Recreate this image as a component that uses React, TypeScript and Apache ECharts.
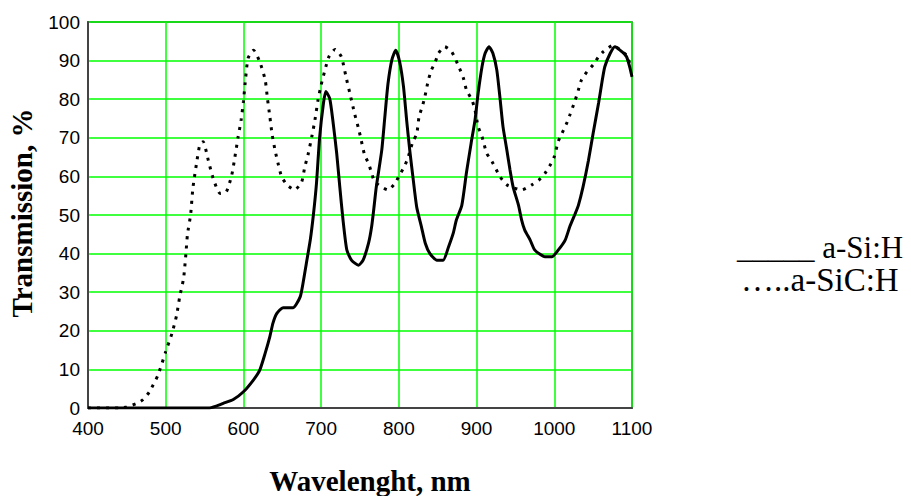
import React, { useEffect, useRef } from "react";
import * as echarts from "echarts";

// a-Si:H (solid line)
const siWavelength = [400, 555, 565, 574, 587, 600, 613, 621, 628, 634, 638, 643, 651, 664, 673, 677, 681, 686, 690, 694, 698, 703, 706, 711, 715, 720, 724, 728, 733, 739, 748, 754, 761, 765, 768, 771, 778, 782, 786, 791, 796, 801, 806, 810, 814, 818, 823, 829, 834, 840, 849, 857, 864, 870, 874, 881, 887, 893, 898, 902, 907, 911, 916, 921, 926, 930, 934, 939, 943, 947, 954, 958, 962, 969, 975, 988, 997, 1005, 1014, 1020, 1027, 1031, 1037, 1044, 1050, 1057, 1061, 1065, 1072, 1078, 1087, 1093, 1097, 1100];
const siTransmission = [0, 0, 0.5, 1.2, 2.2, 4.2, 7.3, 9.8, 14.2, 18.5, 22, 24.5, 26, 26, 28.8, 32.7, 37.5, 43.5, 50, 58.2, 70, 79, 82, 80.2, 74.6, 66, 57.3, 49, 41, 38.3, 37, 38.3, 42.7, 47, 52, 57.3, 66.8, 75.5, 84, 90.2, 92.7, 89.7, 83.2, 74.6, 66.8, 60, 52, 47, 42.7, 40, 38.3, 38.3, 41.8, 45.3, 48.7, 52.5, 61, 68.6, 74.6, 81.5, 88.4, 91.9, 93.6, 91.9, 87.6, 80.6, 72.9, 66.8, 61.7, 57.3, 52.5, 48.7, 46.1, 43.5, 40.9, 39.2, 39.2, 40.9, 43.5, 47, 50.4, 52.5, 57.3, 64.2, 71.2, 79, 84, 88.4, 91.9, 93.6, 92.3, 91, 88.4, 85.8];

// a-SiC:H (dotted line)
const sicWavelength = [400, 440, 450, 463, 471, 479, 490, 500, 508, 514, 518, 523, 526, 528, 532, 535, 540, 544, 548, 555, 561, 570, 578, 585, 589, 593, 597, 600, 603, 606, 613, 621, 628, 631, 634, 637, 641, 645, 649, 656, 666, 675, 679, 683, 688, 692, 696, 700, 705, 710, 718, 726, 732, 737, 743, 748, 751, 756, 761, 765, 769, 786, 795, 801, 807, 812, 818, 823, 826, 830, 833, 838, 842, 847, 851, 859, 868, 878, 883, 887, 894, 898, 902, 907, 913, 920, 930, 939, 958, 971, 980, 988, 995, 1000, 1005, 1010, 1016, 1020, 1027, 1031, 1035, 1042, 1050, 1057, 1063, 1076, 1085, 1093, 1097, 1100];
const sicTransmission = [0, 0, 0.3, 1.2, 2.2, 4.2, 8.5, 14.6, 19.3, 24, 28.8, 33.6, 40, 45, 50, 57, 63.8, 68.3, 69, 64, 59.5, 55.6, 56, 60.4, 65, 70, 74.6, 79.4, 85.8, 90.6, 92.7, 89.7, 85, 80, 75.5, 70.7, 66.5, 63, 60, 57.8, 56.5, 58.6, 62.5, 65.5, 70.3, 74.6, 79.8, 83.7, 87.6, 91, 92.9, 91, 85.8, 81.5, 76.3, 72.5, 69.9, 65.5, 63.4, 60.8, 58.6, 56.5, 58.2, 60.4, 62.5, 65, 69, 71, 75.5, 78, 80.2, 85, 87.6, 89.7, 91.9, 93.6, 92.3, 88, 85.5, 82.4, 79.8, 77.2, 72.9, 70.3, 66, 63.8, 60, 57.8, 56.5, 57.8, 59, 60.8, 63, 65.1, 69, 71.2, 73.8, 75.9, 79.8, 82.4, 85, 87.1, 88.9, 91, 92.3, 94, 92.7, 91.4, 89.3, 88];

const xMin = 400;
const xMax = 1100;
const xStep = 100;
const yMin = 0;
const yMax = 100;
const yStep = 10;

const yTitle = "Transmission, %";
const xTitle = "Wavelenght, nm";
const legendSi = "_____ a-Si:H";
const legendSiC = "…..a-SiC:H";

export default function App() {
  const ref = useRef<HTMLDivElement>(null);

  useEffect(() => {
    document.body.style.margin = "0";
    if (!ref.current) return;
    const chart = echarts.init(ref.current, null, { renderer: "svg" });

    const siData = siWavelength.map((w, i) => [w, siTransmission[i]]);
    const sicData = sicWavelength.map((w, i) => [w, sicTransmission[i]]);

    const tickFont = {
      color: "#000",
      fontFamily: "Liberation Sans",
      fontSize: 19,
      formatter: (v: number) => String(v),
    };

    const textStyle = (
      text: string,
      size: number,
      weight: string,
      align: string
    ) => ({
      text,
      fontFamily: "Liberation Serif",
      fontWeight: weight,
      fontSize: size,
      fill: "#000",
      align,
      verticalAlign: "middle",
      textAlign: align,
      textVerticalAlign: "middle",
    });

    chart.setOption({
      animation: false,
      backgroundColor: "#fff",
      grid: {
        left: 88,
        top: 22,
        width: 544,
        height: 386,
        show: true,
        borderColor: "#333",
        borderWidth: 1.5,
        backgroundColor: "transparent",
      },
      xAxis: {
        type: "value",
        min: xMin,
        max: xMax,
        interval: xStep,
        axisLine: { show: true, onZero: false, lineStyle: { color: "#444", width: 2 } },
        axisTick: { show: false },
        splitLine: { show: true, lineStyle: { color: "#00ff00", width: 1.5 } },
        axisLabel: { ...tickFont, margin: 11 },
      },
      yAxis: {
        type: "value",
        min: yMin,
        max: yMax,
        interval: yStep,
        axisLine: { show: true, onZero: false, lineStyle: { color: "#444", width: 2 } },
        axisTick: { show: false },
        splitLine: { show: true, lineStyle: { color: "#00ff00", width: 1.5 } },
        axisLabel: { ...tickFont, margin: 8 },
      },
      series: [
        {
          name: "a-Si:H",
          type: "line",
          data: siData,
          showSymbol: false,
          smooth: 0.2,
          lineStyle: { color: "#000", width: 3 },
          z: 3,
        },
        {
          name: "a-SiC:H",
          type: "line",
          data: sicData,
          showSymbol: false,
          smooth: 0.2,
          lineStyle: { color: "#000", width: 3, type: [3, 6], cap: "butt" },
          z: 4,
        },
      ],
      graphic: [
        {
          type: "text",
          x: 22,
          y: 213,
          rotation: Math.PI / 2,
          style: textStyle(yTitle, 29, "bold", "center"),
        },
        {
          type: "text",
          x: 370,
          y: 481,
          style: textStyle(xTitle, 29, "bold", "center"),
        },
        {
          type: "text",
          x: 737,
          y: 247,
          style: textStyle(legendSi, 31, "normal", "left"),
        },
        {
          type: "text",
          x: 741,
          y: 280,
          style: textStyle(legendSiC, 33, "normal", "left"),
        },
      ],
    });

    return () => chart.dispose();
  }, []);

  return (
    <div
      ref={ref}
      style={{ position: "absolute", left: 0, top: 0, width: 911, height: 496 }}
    />
  );
}
